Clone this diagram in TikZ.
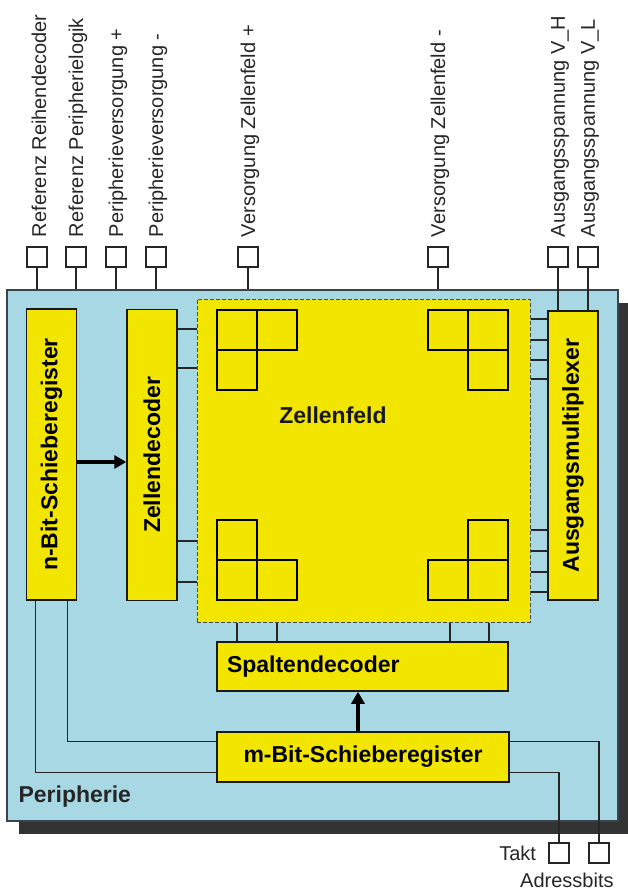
\documentclass[tikz,border=0pt]{standalone}
\usepackage{fontspec}
\setmainfont{Liberation Sans}
\usetikzlibrary{arrows.meta,shadows,positioning}

\definecolor{zellgelb}{RGB}{242,230,0}
\definecolor{periblau}{RGB}{168,216,228}
\definecolor{rahmen}{RGB}{55,70,75}

\begin{document}
\begin{tikzpicture}[
  x=1pt,y=-1pt,
  box/.style={draw=black!90,line width=1.5pt,fill=zellgelb,inner sep=0pt,font=\fontsize{23}{26}\selectfont\bfseries},
  vbox/.style={box,minimum width=50pt,minimum height=291pt},
  hbox/.style={box,minimum width=292pt,minimum height=50pt},
  vtext/.style={rotate=90,font=\fontsize{23}{26}\selectfont\bfseries},
  pinbox/.style={draw=black!85,line width=1.6pt,fill=white,minimum size=20pt,inner sep=0pt},
  toplabel/.style={rotate=90,anchor=west,inner sep=0pt,font=\fontsize{20}{24}\selectfont,text=black!85},
  pinlabel/.style={font=\fontsize{20}{24}\selectfont,text=black!85,inner sep=0pt},
  wire/.style={line width=1.3pt,draw=black!85},
  stub/.style={line width=2.4pt,draw=black!85},
  cell/.style={line width=1.8pt,draw=black},
  bigarrow/.style={-{Triangle[length=12pt,width=13pt]},line width=4pt,draw=black}
]
\useasboundingbox (0,0) rectangle (627,893);

% Peripherie
\node[draw=rahmen,line width=1.5pt,fill=periblau,minimum width=611pt,minimum height=531pt,inner sep=0pt,
  drop shadow={shadow xshift=12pt,shadow yshift=-13pt,fill=black!80,opacity=1}] (panel) at (312.5,555.5) {};
\node[anchor=west,font=\fontsize{23}{26}\selectfont\bfseries,text=black!85] (peri) at (15,797) {Peripherie};

% Zellenfeld
\node[fill=zellgelb,draw=black!70,line width=1pt,dash pattern=on 4pt off 2pt,minimum width=333pt,minimum height=323pt,inner sep=0pt] (field) at (363.5,460.5) {};
\node[font=\fontsize{23}{26}\selectfont\bfseries,text=black!90] (fieldname) at (333,415) {Zellenfeld};
\foreach \cx/\cy in {217/310,257/310,217/350,428/310,468/310,468/350,217/520,217/560,257/560,468/520,428/560,468/560}
  \draw[cell] (\cx,\cy) rectangle ++(40,40);

% Bloecke
\node[vbox,label={[vtext]center:n-Bit-Schieberegister}] (nbit) at (51.5,454.5) {};
\node[vbox,label={[vtext]center:Zellendecoder}] (zdec) at (152,455) {};
\node[vbox,minimum height=289pt,label={[vtext]center:Ausgangsmultiplexer}] (mux) at (573,455.5) {};
\node[hbox,minimum width=291pt,minimum height=49pt,text width=271pt,inner xsep=10pt,align=left] (sdec) at (362.5,666.5) {Spaltendecoder};
\node[hbox] (mbit) at (363,757) {m-Bit-Schieberegister};

% Anschluesse oben
\foreach \nm/\xx/\txt in {rrd/37/{Referenz Reihendecoder},rpl/76/{Referenz Peripherielogik},
    pvp/116/{Peripherieversorgung +},pvm/156/{Peripherieversorgung -},
    vzp/248/{Versorgung Zellenfeld +},vzm/438/{Versorgung Zellenfeld -},
    avh/558/{Ausgangsspannung V\_H},avl/588/{Ausgangsspannung V\_L}}
{
  \node[pinbox] (\nm) at (\xx,257) {};
  \node[toplabel] (\nm-text) at ([xshift=2pt,yshift=9pt]\nm.north) {\txt};
}
\foreach \nm in {rrd,rpl,pvp,pvm,vzp,vzm}
  \draw[wire] (\nm.south) -- (\nm.south |- panel.north);
\foreach \nm in {avh,avl}
  \draw[wire] (\nm.south) -- (\nm.south |- mux.north);

% Anschluesse unten
\node[pinbox] (takt) at (559,853) {};
\node[pinbox] (adr) at (599,853) {};
\node[pinlabel,left=12pt of takt] (takttext) {Takt};
\node[pinlabel,anchor=north east] (adrtext) at ([xshift=4pt,yshift=-9pt]adr.south east) {Adressbits};

% Leitungen
\foreach \yy in {329,368,541,582}
  \draw[stub] (zdec.east |- 0,\yy) -- (field.west |- 0,\yy);
\foreach \yy in {319,340,360,379,530,551,572,592}
  \draw[stub,line width=2pt] (field.east |- 0,\yy) -- (mux.west |- 0,\yy);
\foreach \xx in {237,277,450,489}
  \draw[stub,line width=2pt] (field.south -| \xx,0) -- (sdec.north -| \xx,0);

\draw[bigarrow] (nbit.east |- 0,462) -- (zdec.west |- 0,462);
\draw[bigarrow] (mbit.north -| 358,0) -- (sdec.south -| 358,0);

\draw[wire] ([xshift=10pt]nbit.south west) |- ([yshift=10pt]mbit.south west);
\draw[wire] ([xshift=-10pt]nbit.south east) |- ([yshift=-10pt]mbit.north west);
\draw[wire] ([yshift=-10pt]mbit.north east) -| (adr.north);
\draw[wire] ([yshift=10pt]mbit.south east) -| (takt.north);
\end{tikzpicture}
\end{document}
